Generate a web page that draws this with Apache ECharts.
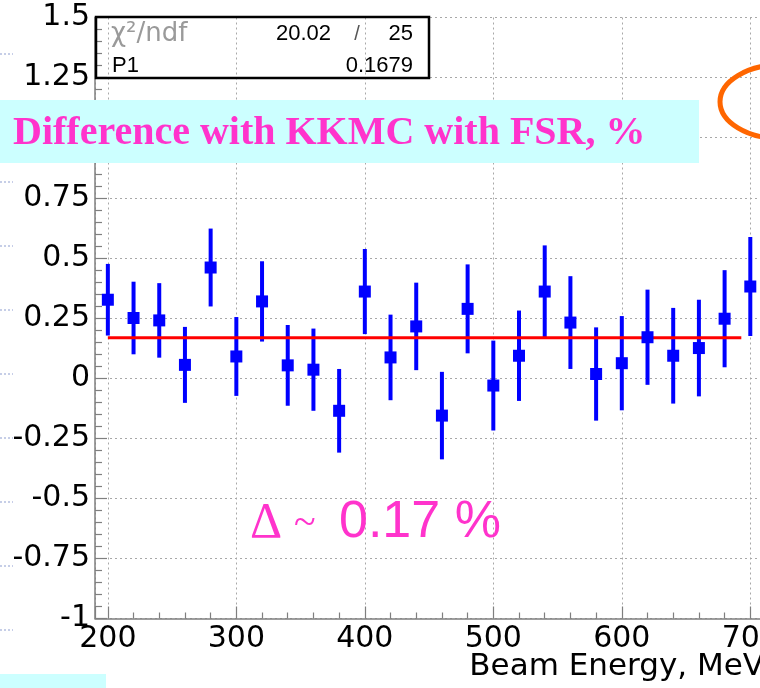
<!DOCTYPE html>
<html>
<head>
<meta charset="utf-8">
<script src="https://cdn.jsdelivr.net/npm/echarts@6/dist/echarts.min.js"></script>
<style>
  html, body { margin: 0; padding: 0; background: #ffffff; }
  #chart { width: 760px; height: 688px; }
</style>
</head>
<body>
<div id="chart"></div>
<script>
// Beam energy points, MeV
const beamEnergy = [200, 220, 240, 260, 280, 300, 320, 340, 360, 380, 400, 420, 440,
                    460, 480, 500, 520, 540, 560, 580, 600, 620, 640, 660, 680, 700];
// Relative difference with KKMC (with FSR), %
const difference = [0.326, 0.250, 0.240, 0.055, 0.460, 0.090, 0.319, 0.053, 0.035, -0.136, 0.360, 0.086, 0.215,
                    -0.156, 0.288, -0.031, 0.093, 0.360, 0.231, 0.017, 0.062, 0.170, 0.093, 0.125, 0.247, 0.381];
// Statistical errors, %
const diffError = [0.149, 0.151, 0.155, 0.158, 0.162, 0.164, 0.167, 0.168, 0.171, 0.174, 0.177, 0.178, 0.182,
                   0.182, 0.185, 0.187, 0.188, 0.192, 0.193, 0.194, 0.196, 0.198, 0.199, 0.201, 0.202, 0.206];
// Constant fit result
const fitP1 = 0.1679;
const fitRange = [200, 693];
const fitChi2 = '20.02';
const fitNdf = '25';
const xTitle = 'Beam Energy, MeV';

const chart = echarts.init(document.getElementById('chart'), null, { renderer: 'canvas' });

const axisGray = '#7f7f7f';
const gridGray = '#a8a8a8';
const tickFont = 'DejaVu Sans, sans-serif';
const magenta = '#ff33cc';

const errorData = beamEnergy.map((e, i) => [e, difference[i] - diffError[i], difference[i] + diffError[i]]);
const pointData = beamEnergy.map((e, i) => [e, difference[i]]);
const fitData = fitRange.map(e => [e, fitP1]);

// faint dotted stubs along the left border
const leftStubs = [54, 182, 246, 310, 374, 438, 502, 566, 630].map(y => ({
  type: 'line',
  shape: { x1: 0, y1: y, x2: 13, y2: y },
  style: { stroke: '#b4bee0', lineWidth: 1.5, lineDash: [2, 2] },
  z: 1
}));

const option = {
  animation: false,
  backgroundColor: '#ffffff',
  grid: { left: 95, top: 17.5, width: 681, height: 601, containLabel: false, outerBoundsMode: 'none' },
  xAxis: {
    type: 'value',
    min: 190,
    max: 720,
    splitNumber: 5,
    axisLine: { show: true, onZero: false, lineStyle: { color: axisGray, width: 1.5 } },
    axisTick: { show: true, inside: true, length: 12, lineStyle: { color: axisGray, width: 1.2 } },
    minorTick: { show: true, splitNumber: 5, length: 6, lineStyle: { color: axisGray, width: 1.2 } },
    axisLabel: {
      showMinLabel: false, showMaxLabel: false,
      fontFamily: tickFont, fontSize: 30, color: '#000', margin: 6
    },
    splitLine: { show: true, lineStyle: { color: gridGray, width: 1, type: [2, 3] } }
  },
  yAxis: {
    type: 'value',
    min: -1,
    max: 1.5,
    interval: 0.25,
    axisLine: { show: true, onZero: false, lineStyle: { color: axisGray, width: 1.5 } },
    axisTick: { show: true, inside: true, length: 12, lineStyle: { color: axisGray, width: 1.2 } },
    minorTick: { show: true, splitNumber: 5, length: 7, lineStyle: { color: axisGray, width: 1.2 } },
    axisLabel: { fontFamily: tickFont, fontSize: 30, color: '#000', margin: 5 },
    splitLine: { show: true, lineStyle: { color: gridGray, width: 1, type: [2, 3] } }
  },
  series: [
    {
      name: 'errors',
      type: 'custom',
      data: errorData,
      encode: { x: 0, y: [1, 2] },
      z: 2,
      renderItem: function (params, api) {
        const x = api.value(0);
        const lo = api.coord([x, api.value(1)]);
        const hi = api.coord([x, api.value(2)]);
        return {
          type: 'line',
          shape: { x1: lo[0], y1: lo[1], x2: hi[0], y2: hi[1] },
          style: { stroke: '#0000ff', lineWidth: 4 }
        };
      }
    },
    {
      name: 'fit',
      type: 'line',
      data: fitData,
      symbol: 'none',
      z: 3,
      lineStyle: { color: '#ff0000', width: 3 }
    },
    {
      name: 'difference',
      type: 'scatter',
      data: pointData,
      symbol: 'rect',
      symbolSize: 12,
      z: 4,
      itemStyle: { color: '#0000ff', opacity: 1 }
    }
  ],
  graphic: [
    ...leftStubs,
    // x axis title, right-aligned at the page edge
    {
      type: 'text', z: 40, x: 764, y: 667,
      style: { text: xTitle, font: '31px "DejaVu Sans", sans-serif', fill: '#000', align: 'right', verticalAlign: 'middle' }
    },
    // fit statistics box
    {
      type: 'rect', z: 50,
      shape: { x: 96, y: 17, width: 333, height: 61 },
      style: { fill: 'none', stroke: '#000', lineWidth: 2.5 }
    },
    {
      type: 'text', z: 51, x: 111, y: 34,
      style: { text: 'χ²/ndf', font: '26px "DejaVu Sans", sans-serif', fill: '#9a9a9a', align: 'left', verticalAlign: 'middle' }
    },
    {
      type: 'text', z: 51, x: 331, y: 34,
      style: { text: fitChi2, font: '22px "Liberation Sans", sans-serif', fill: '#000', align: 'right', verticalAlign: 'middle' }
    },
    {
      type: 'text', z: 51, x: 357, y: 34,
      style: { text: '/', font: '20px "Liberation Sans", sans-serif', fill: '#555', align: 'center', verticalAlign: 'middle' }
    },
    {
      type: 'text', z: 51, x: 413, y: 34,
      style: { text: fitNdf, font: '22px "Liberation Sans", sans-serif', fill: '#000', align: 'right', verticalAlign: 'middle' }
    },
    {
      type: 'text', z: 51, x: 112, y: 66,
      style: { text: 'P1', font: '22px "Liberation Sans", sans-serif', fill: '#000', align: 'left', verticalAlign: 'middle' }
    },
    {
      type: 'text', z: 51, x: 413, y: 66,
      style: { text: String(fitP1), font: '22px "Liberation Sans", sans-serif', fill: '#000', align: 'right', verticalAlign: 'middle' }
    },
    // caption banner
    {
      type: 'rect', z: 60,
      shape: { x: 0, y: 100, width: 699, height: 63 },
      style: { fill: '#ccffff' }
    },
    {
      type: 'text', z: 61, x: 13, y: 134,
      style: {
        text: 'Difference with KKMC with FSR, %',
        font: 'bold 40px "Liberation Serif", serif',
        fill: magenta, align: 'left', verticalAlign: 'middle'
      }
    },
    // fitted offset annotation
    {
      type: 'text', z: 61, x: 250, y: 524,
      style: { text: 'Δ', font: '50px "Liberation Serif", serif', fill: magenta, align: 'left', verticalAlign: 'middle' }
    },
    {
      type: 'text', z: 61, x: 294, y: 524,
      style: { text: '~', font: '40px "Liberation Serif", serif', fill: magenta, align: 'left', verticalAlign: 'middle' }
    },
    {
      type: 'text', z: 61, x: 339, y: 523,
      style: { text: '0.17 %', font: '52px "Liberation Sans", sans-serif', fill: magenta, align: 'left', verticalAlign: 'middle' }
    },
    // highlight ellipse at the right edge
    {
      type: 'ellipse', z: 62,
      shape: { cx: 781, cy: 101.7, rx: 61, ry: 37 },
      style: { fill: 'none', stroke: '#ff6600', lineWidth: 5 }
    },
    // corner patch
    {
      type: 'rect', z: 60,
      shape: { x: 0, y: 674, width: 106, height: 14 },
      style: { fill: '#ccffff' }
    }
  ]
};

chart.setOption(option);
</script>
</body>
</html>
